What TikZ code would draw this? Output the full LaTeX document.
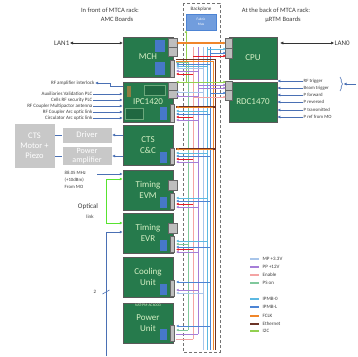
\documentclass[tikz,border=0pt]{standalone}
\usepackage{fontspec}
\setmainfont{Carlito}
\usetikzlibrary{arrows.meta,decorations.pathreplacing}
\definecolor{amcg}{RGB}{38,122,76}
\definecolor{amct}{RGB}{214,240,196}
\definecolor{grayf}{RGB}{200,200,200}
\definecolor{connf}{RGB}{190,190,190}
\definecolor{bluef}{RGB}{70,120,200}
\definecolor{txtg}{RGB}{60,60,60}
\definecolor{arrb}{RGB}{74,112,180}
\definecolor{cPS}{RGB}{128,200,156}
\definecolor{cEN}{RGB}{244,164,164}
\definecolor{cPP}{RGB}{166,126,216}
\definecolor{cMP}{RGB}{168,197,234}
\definecolor{cIO}{RGB}{92,185,226}
\definecolor{cIL}{RGB}{77,132,212}
\definecolor{cFC}{RGB}{240,134,42}
\definecolor{cET}{RGB}{107,51,38}
\definecolor{cIC}{RGB}{146,208,80}
\definecolor{cRD}{RGB}{230,30,40}
\newcommand\hstub[4]{\draw[#1] (#2 |- 0,#3) -- (#4 |- 0,#3);}
\begin{document}
\begin{tikzpicture}[x=1pt,y=-1pt,
  amc/.style={draw=black!65, line width=0.5pt, fill=amcg, text=amct, minimum width=50pt, minimum height=40pt, inner sep=0pt, align=center, font=\fontsize{9}{10.5}\selectfont},
  rtm/.style={amc, minimum width=48pt},
  grayb/.style={fill=grayf, draw=white, text=white, align=center, inner sep=0pt, font=\fontsize{8.5}{10}\selectfont},
  conn/.style={fill=connf, draw=black!60, line width=0.4pt},
  bluebox/.style={fill=bluef, draw=none},
  lbl/.style={font=\fontsize{5}{6}\selectfont, text=txtg, inner sep=0.5pt},
  rlbl/.style={font=\fontsize{4.8}{6}\selectfont, text=txtg, inner sep=0.5pt, anchor=west},
  larr/.style={draw=arrb, line width=0.6pt, -{Latex[length=3pt,width=3pt]}},
  bus/.style={line width=0.8pt},
  tip/.style={-{Latex[length=2.6pt,width=2.6pt]}},
  title/.style={font=\fontsize{6.5}{7.5}\selectfont, text=txtg, inner sep=0pt},
]
\useasboundingbox (0,0) rectangle (358,356);
\fill[white] (0,0) rectangle (358,356);

% titles
\node[title] (t1) at (110,10) {In front of MTCA rack:};
\node[title] (t2) at (117,19) {AMC Boards};
\node[title] (t3) at (276,10) {At the back of MTCA rack:};
\node[title] (t4) at (283,20) {\textmu RTM Boards};

% backplane
\draw[black!55, densely dashed, line width=0.5pt] (183,3) rectangle (220,352);
\node[font=\fontsize{5}{6}\selectfont, text=txtg, inner sep=0] (bp) at (201,9) {Backplane};
\node[fill=cIL!80, draw=cIL, minimum width=30pt, minimum height=16pt, inner sep=0, align=center, text=white, font=\fontsize{3.5}{4.5}\selectfont] (fab) at (201,22) {Fabric\\Mux};

% AMC boards
\node[amc] (MCH) at (148,57) {MCH};
\node[amc] (IPC) at (148,102) {IPC1420};
\node[amc] (CTS) at (148,145) {CTS\\C\&C};
\node[amc] (EVM) at (148,190) {Timing\\EVM};
\node[amc] (EVR) at (148,233) {Timing\\EVR};
\node[amc] (COOL) at (148,277) {Cooling\\Unit};
\node[amc, text depth=0pt] (PWR) at (148,323) {Power\\Unit};
\node[font=\fontsize{3.8}{4}\selectfont, text=amct, inner sep=0] (nat) at (148,305) {NAT-PM-AC600D};
% RTM boards
\node[rtm, minimum height=42pt] (CPU) at (253,58) {CPU};
\node[rtm] (RDC) at (253,102) {RDC1470};

% board details: blue modules, gray bars, connectors
\fill[bluebox] (155,40) rectangle (165,52);
\fill[bluebox] (155,62) rectangle (165,75);
\draw[conn] (170,60) rectangle (174,77);
\draw[conn] (168,38) rectangle (177,47);
\draw[conn] (168,47) rectangle (177,56);
% IPC internals
\draw[amct!40!amcg, line width=0.4pt, fill=amcg!85!black] (144,85) rectangle (165,95);
\fill[brown!70!amcg] (127,86) rectangle (131,97);
\draw[amct!40!amcg, line width=0.4pt, fill=amcg!85!black] (125,108) rectangle (143,119);
\fill[bluebox] (160,107) rectangle (167,120);
\draw[conn] (170,104) rectangle (174,122);
\draw[conn] (168,82) rectangle (177,90);
\draw[conn] (168,90) rectangle (177,98);
% others
\foreach \yb in {165,210,253,297,342}{
  \fill[bluebox] (160,\yb-13) rectangle (167,\yb-2);
  \draw[conn] (170,\yb-17) rectangle (174,\yb-1);
}
\draw[conn] (168,180) rectangle (177,190);
\draw[conn] (168,223) rectangle (177,233);
% RTM connectors
\draw[conn] (225,38) rectangle (232,48);
\draw[conn] (225,48) rectangle (232,58);
\draw[conn] (225,81) rectangle (232,90);
\draw[conn] (225,90) rectangle (232,100);

% reference coordinates
\coordinate (amcR) at (176,0);
\coordinate (rtmL) at (226,0);
\coordinate (bPS) at (188,0);
\coordinate (bEN) at (193,0);
\coordinate (bPP) at (198,0);
\coordinate (bMP) at (203,0);
\coordinate (bIO) at (207,0);
\coordinate (bIL) at (210,0);
\coordinate (bFC) at (213,0);
\coordinate (bET) at (215.5,0);
\coordinate (bIC) at (186,0);

% bus verticals
\draw[bus, cMP] (bMP |- 0,47) -- (bMP |- 0,350);
\draw[bus, cIO] (bIO |- 0,47) -- (bIO |- 0,350);
\draw[bus, cIL] (bIL |- 0,47) -- (bIL |- 0,350);
\draw[bus, cFC, line width=1pt] (bFC |- 0,61) -- (bFC |- 0,350);
\draw[bus, cET, line width=1pt] (bET |- 0,59) -- (bET |- 0,350);
\draw[bus, cPP] (bPP |- 0,47) -- (bPP |- 0,334);
\draw[bus, cEN] (bEN |- 0,47) -- (bEN |- 0,339);
\draw[bus, cPS] (bPS |- 0,62) -- (bPS |- 0,330);
% I2C from fabric
\draw[cIC, line width=0.8pt, tip] (bIC |- 0,82) -- (fab.south -| bIC);
\hstub{cIC, line width=0.8pt, tip}{bIC}{82}{amcR}
\hstub{cIC, line width=0.8pt, tip}{bIC}{82}{rtmL}

% MCH <-> CPU
\draw[cFC, line width=1.2pt, {Latex[length=3pt,width=3pt,fill=black]}-{Latex[length=3pt,width=3pt,fill=black]}] (amcR |- 0,43) -- (rtmL |- 0,43);
% MCH stubs
\hstub{cET, line width=1pt}{bET}{59}{amcR}
\hstub{cFC, line width=1pt}{bFC}{61}{amcR}
\hstub{cIL, bus, tip}{bIL}{64}{amcR}
\hstub{cIO, bus, tip}{bIO}{66}{amcR}
\hstub{cMP, bus, tip}{bMP}{68}{amcR}
\hstub{cPP, bus, tip}{bPP}{71}{amcR}
\hstub{cRD, bus, tip}{bEN}{74}{amcR}
\hstub{cPS, bus}{bPS}{62}{amcR}
% CPU stubs
\hstub{cIO, bus, tip}{bIO}{49}{rtmL}
\hstub{cIL, bus, tip}{bIL}{53}{rtmL}
\hstub{cRD, bus, tip}{bEN}{56}{rtmL}
% RDC stubs
\hstub{cPP, bus, tip}{bPP}{85}{rtmL}
\hstub{cPP, bus, tip}{bPP}{88}{rtmL}
\hstub{cIL, bus, tip}{bIL}{93}{rtmL}
\hstub{cEN, bus, tip}{bEN}{97}{rtmL}
% IPC stubs
\hstub{cMP, bus, tip}{bMP}{92}{amcR}
\hstub{cPP, bus, tip}{bPP}{96}{amcR}
\hstub{cET, line width=1.3pt}{bET}{107}{amcR}
\draw[cFC, tip, line width=0.8pt] (bFC |- 0,107.2) -- (amcR |- 0,107.2);
\hstub{cIO, bus, tip}{bIO}{111}{amcR}
\hstub{cIL, bus, tip}{bIL}{114}{amcR}
\hstub{cRD, bus, tip}{bEN}{117}{amcR}
\hstub{cPP, bus, tip}{bPP}{120}{amcR}
% CTS stubs
\hstub{cET, line width=1.3pt}{bET}{149}{amcR}
\draw[cFC, tip, line width=0.8pt] (bFC |- 0,149.2) -- (amcR |- 0,149.2);
\hstub{cIO, bus, tip}{bIO}{153}{amcR}
\hstub{cIL, bus, tip}{bIL}{156}{amcR}
\hstub{cRD, bus, tip}{bEN}{159}{amcR}
\hstub{cPP, bus, tip}{bPP}{162}{amcR}
% EVM stubs
\hstub{cIO, bus, tip}{bIO}{198}{amcR}
\hstub{cIL, bus, tip}{bIL}{201}{amcR}
\hstub{cRD, bus, tip}{bEN}{204}{amcR}
\hstub{cPP, bus, tip}{bPP}{207}{amcR}
% EVR stubs
\hstub{cIO, bus, tip}{bIO}{241}{amcR}
\hstub{cPS, bus, tip}{bPS}{244}{amcR}
\hstub{cIL, bus, tip}{bIL}{247}{amcR}
\hstub{cRD, bus, tip}{bEN}{249.5}{amcR}
\hstub{cPP, bus, tip}{bPP}{252}{amcR}
% Cooling stubs
\hstub{cIL, bus, tip}{bIL}{282}{amcR}
\hstub{cPP, bus, tip}{bPP}{290}{amcR}
\hstub{cMP, bus, tip}{bMP}{293}{amcR}
% Power stubs
\hstub{cIL, bus, tip}{bIL}{326}{amcR}
\hstub{cPS, bus, tip}{bPS}{330}{amcR}
\hstub{cPP, bus}{bPP}{334}{amcR}
\hstub{cEN, bus}{bEN}{339}{amcR}

% LAN arrows
\node[font=\fontsize{7}{8}\selectfont, text=txtg, inner sep=0.5pt, anchor=east] (lan1) at (70,43) {LAN1};
\draw[black!80, line width=0.5pt, {Latex[length=3pt,width=3pt]}-{Latex[length=3pt,width=3pt]}] (lan1.east) -- (lan1.east -| MCH.west);
\node[font=\fontsize{7}{8}\selectfont, text=txtg, inner sep=0.5pt, anchor=west] (lan0) at (334,43) {LAN0};
\draw[black!80, line width=0.5pt, {Latex[length=3pt,width=3pt]}-{Latex[length=3pt,width=3pt]}] (lan0.west -| CPU.east) ++(3,0) -- (lan0.west);

% RDC inputs
\node[rlbl] (r1) at (303,81) {RF trigger};
\node[rlbl] (r2) at (303,88) {Beam trigger};
\node[rlbl] (r3) at (303,95) {P forward};
\node[rlbl] (r4) at (303,102) {P reversed};
\node[rlbl] (r5) at (303,110) {P transmitted};
\node[rlbl] (r6) at (303,117) {P ref from MO};
\foreach \r in {r1,r2,r3,r4,r5,r6}{\draw[larr] (\r.west) -- (\r.west -| RDC.east);}
\draw[arrb, line width=0.6pt, decorate, decoration={brace, amplitude=2.5pt}] (340,77) -- (340,91);
\coordinate (trg) at (356,84);
\draw[larr] (trg) -- (343.5,84);

% IPC inputs
\node[lbl, anchor=east] (rfa) at (95,83) {RF amplifier interlock};
\node[lbl, anchor=east] (l1) at (93,94) {Auxiliaries Validation PLC};
\node[lbl, anchor=east] (l2) at (93,100) {Cells RF security PLC};
\node[lbl, anchor=east] (l3) at (93,106) {RF Coupler Multipactor antenna};
\node[lbl, anchor=east] (l4) at (93,112) {RF Coupler Arc optic link};
\node[lbl, anchor=east] (l5) at (93,118) {Circulator Arc optic link};
\draw[larr] ([yshift=16pt]IPC.west) -- ++(-12,0) |- (rfa.east);
\foreach \l in {l1,l2,l3,l4,l5}{\draw[larr] (\l.east) -- (\l.east -| IPC.west);}

% CTS actuators
\node[grayb, minimum width=41pt, minimum height=45pt] (MOT) at (34.5,145.5) {CTS\\Motor +\\Piezo};
\node[grayb, minimum width=50pt, minimum height=16pt] (DRV) at (87,135) {Driver};
\node[grayb, minimum width=50pt, minimum height=19pt, font=\fontsize{8}{8.5}\selectfont] (PAMP) at (87,156) {Power\\amplifier};
\draw[larr] (DRV.east -| CTS.west) -- (DRV.east);
\draw[larr] (PAMP.east -| CTS.west) -- (PAMP.east);
\draw[arrb, line width=0.6pt] (DRV.west) -- (DRV.west -| MOT.east);
\draw[arrb, line width=0.6pt] (PAMP.west) -- (PAMP.west -| MOT.east);

% EVM input
\node[lbl, anchor=north west, align=left, font=\fontsize{4.8}{7}\selectfont] (mo) at (64,170.5) {88.05 MHz\\(+10dBm)\\From MO};
\coordinate (moin) at (97,174);
\draw[larr] (moin) -- (moin -| EVM.west);
% optical link
\draw[cIC!60!green, line width=0.7pt, {Latex[length=3pt,width=3pt]}-{Latex[length=3pt,width=3pt]}] ([yshift=11pt]EVM.west) -- ++(-16,0) |- ([yshift=10pt]EVR.west);
\node[font=\fontsize{7}{8}\selectfont, text=txtg, inner sep=0] (opt) at (88,207) {Optical};
\node[font=\fontsize{5}{6}\selectfont, text=txtg, inner sep=0] (lnk) at (90,217) {link};
% EVR input from bottom
\coordinate (bot) at (106,356);
\draw[larr] (bot) |- ([yshift=1pt]EVR.west);
\draw[arrb, line width=0.6pt] (102.5,294) -- (109.5,290);
\node[font=\fontsize{5}{6}\selectfont, text=txtg, inner sep=0] (two) at (95,292) {2};

% legend
\foreach \yy/\cc/\tt [count=\i] in {259/cMP/MP +3.3V, 267/cPP/PP +12V, 275/cEN/Enable, 283/cPS/PS on, 299/cIO/IPMB-0, 307/cIL/IPMB-L, 316/cFC/FCLK, 324/cET/Ethernet, 331/cIC/I2C}{
  \draw[\cc, line width=1.6pt] (250,\yy) -- (259,\yy);
  \node[lbl, anchor=west] (leg\i) at (262,\yy) {\tt};
}
\end{tikzpicture}
\end{document}
